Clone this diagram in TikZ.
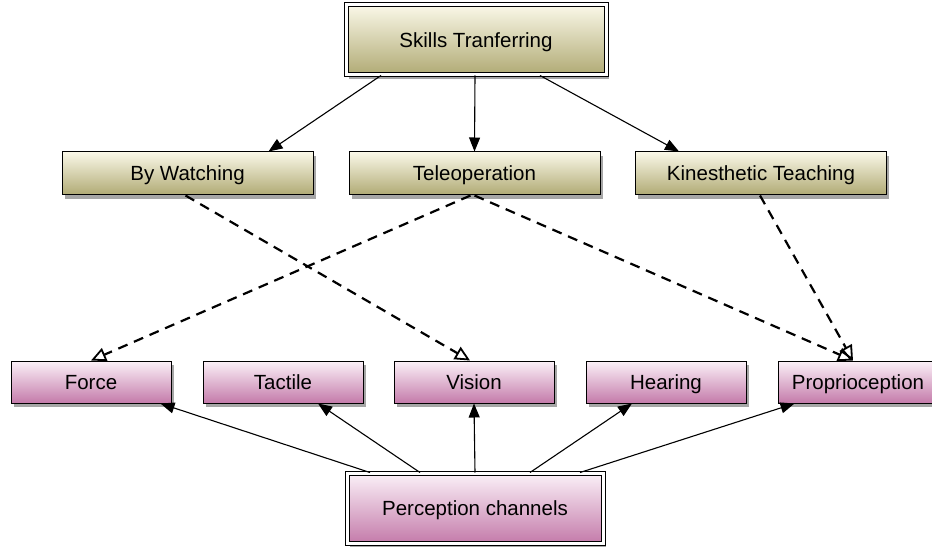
\documentclass[tikz,border=0pt]{standalone}
\usepackage{fontspec}
\setmainfont{Liberation Sans}
\usetikzlibrary{arrows.meta,shadows,calc}
\definecolor{oliveT}{HTML}{FAF8E8}
\definecolor{oliveB}{HTML}{B0AA74}
\definecolor{pinkT}{HTML}{FBF1F8}
\definecolor{pinkB}{HTML}{C47BAA}
\tikzset{
  boxbase/.style={draw=black, line width=1pt, inner sep=0pt,
     font=\fontsize{20.5}{24}\selectfont, text depth=0pt,
     drop shadow={shadow xshift=2.5pt, shadow yshift=-4pt, fill=black, opacity=0.35}},
  olivebox/.style={boxbase, top color=oliveT, bottom color=oliveB, minimum width=251pt, minimum height=43pt},
  pinkbox/.style={boxbase, top color=pinkT, bottom color=pinkB, minimum width=160pt, minimum height=42pt},
  bigolive/.style={boxbase, top color=oliveT, bottom color=oliveB, minimum width=260pt, minimum height=70pt, double=white, double distance=3pt},
  bigpink/.style={boxbase, top color=pinkT, bottom color=pinkB, minimum width=256pt, minimum height=70pt, double=white, double distance=3pt},
  solidarr/.style={draw=black, line width=1.1pt, -{Triangle[length=14pt,width=11pt]}},
  dasharr/.style={draw=black, line width=2.2pt, dash pattern=on 10pt off 7pt, -{Triangle[open,length=15pt,width=14pt,line width=1.8pt]}}
}
\begin{document}
\begin{tikzpicture}[x=1pt,y=-1pt]
\useasboundingbox (0,0) rectangle (932,548);
\node[bigolive] (sk) at (476,40) {Skills Tranferring};
\node[olivebox] (bw) at (187.5,173.5) {By Watching};
\node[olivebox] (tel) at (474.5,173.5) {Teleoperation};
\node[olivebox] (kin) at (761,173.5) {Kinesthetic Teaching};
\node[pinkbox] (force) at (91,382) {Force};
\node[pinkbox] (tac) at (283,382) {Tactile};
\node[pinkbox] (vis) at (474,382) {Vision};
\node[pinkbox] (hear) at (666,382) {Hearing};
\node[pinkbox] (prop) at (858,382) {Proprioception};
\node[bigpink] (pc) at (475,508) {Perception channels};

\draw[solidarr] ([xshift=-95pt]sk.south) -- ([xshift=-45pt]bw.north east);
\draw[solidarr] ([xshift=-1pt]sk.south) -- (tel.north);
\draw[solidarr] ([xshift=64pt]sk.south) -- ([xshift=44pt]kin.north west);

\draw[dasharr] ([xshift=-2pt]bw.south) -- ([xshift=-4pt]vis.north);
\draw[dasharr] ([xshift=-4pt]tel.south) -- (force.north);
\draw[dasharr] (tel.south) -- ([xshift=-5pt]prop.north);
\draw[dasharr] ([xshift=-1pt]kin.south) -- ([xshift=-5pt]prop.north);

\draw[solidarr] ([xshift=-105pt]pc.north) -- ([xshift=-11pt]force.south east);
\draw[solidarr] ([xshift=-55pt]pc.north) -- ([xshift=35pt]tac.south);
\draw[solidarr] (pc.north) -- (vis.south);
\draw[solidarr] ([xshift=55pt]pc.north) -- ([xshift=-34pt]hear.south);
\draw[solidarr] ([xshift=105pt]pc.north) -- ([xshift=17pt]prop.south west);
\end{tikzpicture}
\end{document}
